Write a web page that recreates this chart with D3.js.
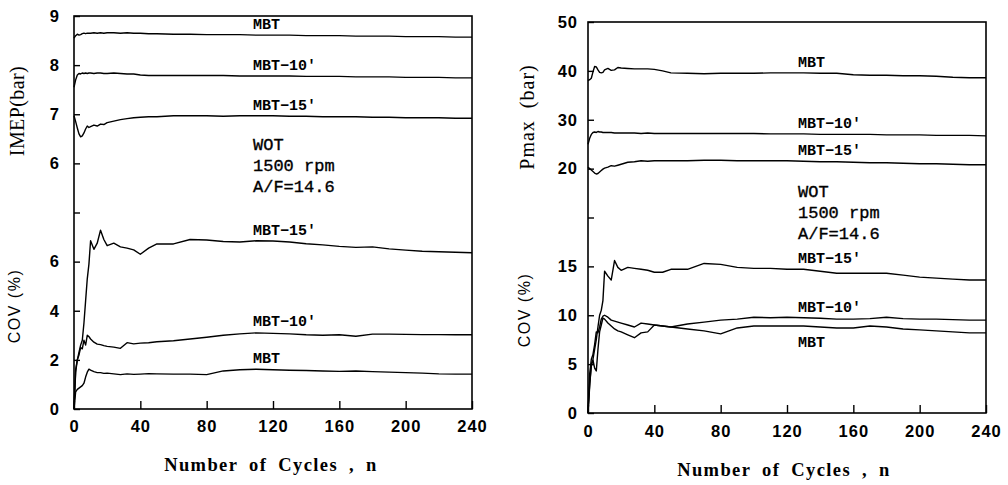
<!DOCTYPE html>
<html>
<head>
<meta charset="utf-8">
<script src="https://cdn.jsdelivr.net/npm/d3@7"></script>
<style>
  html, body { margin: 0; padding: 0; background: #ffffff; }
  svg { display: block; }
</style>
</head>
<body>
<svg id="chart" width="1008" height="485"></svg>
<script>
// ---- data -------------------------------------------------------------
const cycles = [0,1,2,3,4,5,6,7,8,9,10,12,14,16,18,20,24,28,32,36,40,45,50,
  60,70,80,90,100,110,120,130,140,150,160,170,180,190,200,210,220,230,240];

const xTickValues = [0,40,80,120,160,200,240];
const seriesNames = ["MBT", "MBT\u221210'", "MBT\u221215'"];

// IMEP (bar)
const imepMBT = [8.55,8.60,8.63,8.61,8.62,8.64,8.65,8.64,8.65,8.65,8.65,
  8.66,8.65,8.66,8.65,8.66, 8.66,8.65,8.66,8.65,8.65, 8.64,8.64,
  8.63,8.63,8.62,8.62,8.62,8.61,8.61,8.61,8.60,8.60,8.60,8.59,8.59,8.59,8.58,8.58,8.58,8.57,8.57];
const imepMBT10 = [7.55,7.70,7.80,7.83,7.82,7.84,7.83,7.84,7.83,7.84,7.84,
  7.83,7.84,7.84,7.83,7.83, 7.84,7.83,7.82,7.82,7.80, 7.79,7.79,
  7.79,7.79,7.79,7.79,7.78,7.78,7.78,7.78,7.77,7.77,7.77,7.76,7.76,7.76,7.75,7.75,7.75,7.74,7.74];
const imepMBT15 = [6.97,6.85,6.72,6.60,6.54,6.56,6.62,6.70,6.76,6.73,6.75,
  6.78,6.76,6.80,6.79,6.83, 6.86,6.89,6.91,6.93,6.94, 6.95,6.95,
  6.97,6.97,6.97,6.96,6.97,6.97,6.97,6.96,6.96,6.95,6.95,6.95,6.94,6.94,6.93,6.93,6.93,6.92,6.92];

// COV of IMEP (%)
const covImepMBT = [0,0.7,0.8,0.85,0.9,0.95,1.05,1.3,1.5,1.62,1.58,
  1.52,1.48,1.48,1.45,1.46, 1.43,1.40,1.43,1.41,1.42, 1.44,1.43,
  1.42,1.42,1.40,1.55,1.60,1.62,1.60,1.58,1.57,1.55,1.53,1.55,1.52,1.50,1.48,1.46,1.43,1.42,1.42];
const covImepMBT10 = [0,1.6,2.0,2.2,2.5,2.45,2.8,2.6,3.0,2.95,2.85,
  2.72,2.64,2.62,2.58,2.55, 2.52,2.47,2.70,2.65,2.68, 2.70,2.74,
  2.78,2.85,2.92,3.00,3.06,3.10,3.08,3.06,3.02,3.00,3.02,2.96,3.05,3.05,3.04,3.03,3.03,3.02,3.02];
const covImepMBT15 = [0,1.5,2.0,2.3,2.6,2.8,3.5,4.4,5.3,5.9,6.85,
  6.5,6.75,7.28,6.9,6.65, 6.75,6.6,6.55,6.48,6.3, 6.55,6.72,
  6.72,6.9,6.88,6.82,6.8,6.85,6.84,6.8,6.73,6.68,6.62,6.58,6.6,6.52,6.47,6.42,6.4,6.38,6.36];

// Pmax (bar)
const pmaxMBT = [38.0,38.2,38.5,39.8,40.9,40.8,40.2,39.7,39.6,39.7,40.2,
  40.5,40.1,40.2,40.7,40.6, 40.5,40.4,40.4,40.4,40.3, 40.0,39.6,
  39.5,39.4,39.5,39.5,39.5,39.6,39.6,39.6,39.5,39.5,39.2,39.1,39.1,39.0,39.0,38.9,38.7,38.6,38.6];
const pmaxMBT10 = [25.0,26.2,27.0,27.4,27.5,27.4,27.6,27.5,27.5,27.4,27.4,
  27.4,27.4,27.3,27.3,27.3, 27.3,27.3,27.2,27.3,27.2, 27.2,27.2,
  27.2,27.2,27.2,27.2,27.2,27.1,27.1,27.1,27.0,27.0,27.0,27.0,26.9,26.9,26.9,26.8,26.8,26.8,26.7];
const pmaxMBT15 = [20.3,20.0,19.7,19.4,19.1,18.9,19.0,19.3,19.6,19.9,20.1,
  20.3,20.6,20.5,20.7,20.9, 21.3,21.4,21.6,21.5,21.6, 21.6,21.6,
  21.6,21.7,21.7,21.6,21.6,21.6,21.6,21.5,21.4,21.4,21.3,21.2,21.2,21.1,21.0,21.0,20.9,20.8,20.8];

// COV of Pmax (%)
const covPmaxMBT = [0,2.7,5.0,5.4,4.6,4.3,6.5,8.3,9.0,9.7,9.6,
  9.2,8.9,8.6,8.4,8.3, 8.0,7.7,8.2,8.3,9.0, 8.9,8.8,
  8.6,8.4,8.1,8.7,8.9,8.9,8.9,8.9,8.8,8.7,8.7,8.9,8.8,8.6,8.5,8.4,8.3,8.2,8.2];
const covPmaxMBT10 = [0,4.0,5.5,6.0,7.0,8.3,8.2,8.8,9.6,9.9,10.0,
  9.8,9.5,9.4,9.3,9.2, 9.0,8.8,9.2,9.1,9.0, 8.9,8.8,
  9.1,9.3,9.5,9.6,9.8,9.75,9.8,9.75,9.7,9.6,9.6,9.65,9.8,9.65,9.6,9.6,9.55,9.5,9.5];
const covPmaxMBT15 = [0,3.0,4.8,5.5,6.5,7.5,8.8,10.0,10.5,11.5,14.5,
  14.0,13.6,15.6,14.9,14.6, 14.9,14.8,14.7,14.6,14.4, 14.4,14.7,
  14.7,15.3,15.2,14.9,14.8,14.8,14.7,14.7,14.5,14.3,14.3,14.3,14.3,14.1,13.9,13.8,13.7,13.6,13.6];

// ---- layout -------------------------------------------------------------
const panels = [
  {
    x0: 74, x1: 472, top: 16, bottom: 409,
    upperDomain: [5, 9], upperTicks: [5,6,7,8,9], upperHidden: 5,
    lowerDomain: [0, 8], lowerTicks: [0,2,4,6],
    upperSeries: [imepMBT, imepMBT10, imepMBT15],
    lowerSeries: [covImepMBT, covImepMBT10, covImepMBT15],
    upperTitle: "IMEP(bar)", upperTitlePos: [24, 111], upperTitleSpacing: 0.4, upperTitleWord: 0,
    lowerTitlePos: [20, 306],
    yLabelPad: 14, xLabelPad: 11,
    labelX: 253,
    upperLabelDy: [-6, -6, -6],
    lowerLabelDy: [-7, -7, -6],
    notePos: [253, 150],
    xTitle: [271, 471]
  },
  {
    x0: 588, x1: 986, top: 22, bottom: 413,
    upperDomain: [10, 50], upperTicks: [10,20,30,40,50], upperHidden: 10,
    lowerDomain: [0, 20], lowerTicks: [0,5,10,15],
    upperSeries: [pmaxMBT, pmaxMBT10, pmaxMBT15],
    lowerSeries: [covPmaxMBT, covPmaxMBT10, covPmaxMBT15],
    upperTitle: "Pmax (bar)", upperTitlePos: [534, 117], upperTitleSpacing: 1, upperTitleWord: 6,
    lowerTitlePos: [530, 310],
    yLabelPad: 10, xLabelPad: 12,
    labelX: 798,
    upperLabelDy: [-6, -6, -6],
    lowerLabelDy: [21, -5, -6],
    notePos: [798, 197],
    xTitle: [784, 476]
  }
];

const noteLines = ["WOT", "1500 rpm", "A/F=14.6"];
const noteLineHeight = 21;
const labelAnchorCycle = 120;

const tickFont = "'Liberation Sans', Arial, sans-serif";
const monoFont = "'Liberation Mono', 'Courier New', monospace";
const serifFont = "'Liberation Serif', 'Times New Roman', serif";

const svg = d3.select("#chart");

panels.forEach(p => {
  const g = svg.append("g");
  const mid = (p.top + p.bottom) / 2;

  const x = d3.scaleLinear().domain([0, 240]).range([p.x0, p.x1]);
  const yUp = d3.scaleLinear().domain(p.upperDomain).range([mid, p.top]);
  const yLo = d3.scaleLinear().domain(p.lowerDomain).range([p.bottom, mid]);

  // frame
  g.append("rect")
    .attr("x", p.x0).attr("y", p.top)
    .attr("width", p.x1 - p.x0).attr("height", p.bottom - p.top)
    .attr("fill", "none").attr("stroke", "#000").attr("stroke-width", 1.6);

  // left axis: upper quantity
  const axUp = g.append("g").attr("transform", `translate(${p.x0},0)`)
    .call(d3.axisLeft(yUp).tickValues(p.upperTicks)
      .tickSizeInner(-6).tickSizeOuter(0).tickPadding(p.yLabelPad)
      .tickFormat(d => d === p.upperHidden ? "" : d3.format("d")(d)));
  // left axis: COV
  const axLo = g.append("g").attr("transform", `translate(${p.x0},0)`)
    .call(d3.axisLeft(yLo).tickValues(p.lowerTicks)
      .tickSizeInner(-6).tickSizeOuter(0).tickPadding(p.yLabelPad)
      .tickFormat(d3.format("d")));
  // bottom axis
  const axX = g.append("g").attr("transform", `translate(0,${p.bottom})`)
    .call(d3.axisBottom(x).tickValues(xTickValues)
      .tickSizeInner(-8).tickSizeOuter(0).tickPadding(p.xLabelPad)
      .tickFormat(d3.format("d")));

  [axUp, axLo, axX].forEach(a => {
    a.select(".domain").remove();
    a.selectAll(".tick line").attr("stroke", "#000").attr("stroke-width", 1.4);
    a.selectAll(".tick text")
      .attr("fill", "#000")
      .style("font-family", tickFont)
      .style("font-size", "16.5px")
      .style("font-weight", "bold")
      .style("letter-spacing", "1px");
  });

  // curves
  const line = yScale => d3.line()
    .x((d, i) => x(cycles[i]))
    .y(d => yScale(d));

  p.upperSeries.forEach(s => {
    g.append("path").datum(s)
      .attr("d", line(yUp))
      .attr("fill", "none").attr("stroke", "#000")
      .attr("stroke-width", 1.4).attr("stroke-linejoin", "round");
  });
  p.lowerSeries.forEach(s => {
    g.append("path").datum(s)
      .attr("d", line(yLo))
      .attr("fill", "none").attr("stroke", "#000")
      .attr("stroke-width", 1.4).attr("stroke-linejoin", "round");
  });

  // curve labels
  const ai = cycles.indexOf(labelAnchorCycle);
  const addLabel = (txt, yy) => g.append("text")
    .attr("x", p.labelX).attr("y", yy)
    .style("font-family", monoFont).style("font-size", "15px")
    .style("font-weight", "bold").attr("fill", "#000")
    .text(txt);
  p.upperSeries.forEach((s, k) => addLabel(seriesNames[k], yUp(s[ai]) + p.upperLabelDy[k]));
  p.lowerSeries.forEach((s, k) => addLabel(seriesNames[k], yLo(s[ai]) + p.lowerLabelDy[k]));

  // operating condition note
  const note = g.append("text")
    .style("font-family", monoFont).style("font-size", "17px")
    .attr("fill", "#000").attr("stroke", "#000").attr("stroke-width", 0.35)
    .attr("xml:space", "preserve").style("white-space", "pre");
  noteLines.forEach((t, k) => {
    note.append("tspan").attr("x", p.notePos[0]).attr("y", p.notePos[1] + k * noteLineHeight).text(t);
  });

  // axis titles
  g.append("text")
    .attr("transform", `translate(${p.upperTitlePos[0]},${p.upperTitlePos[1]}) rotate(-90)`)
    .attr("text-anchor", "middle")
    .style("font-family", serifFont).style("font-size", "20px")
    .style("letter-spacing", p.upperTitleSpacing + "px")
    .style("word-spacing", p.upperTitleWord + "px")
    .attr("fill", "#000").text(p.upperTitle);

  g.append("text")
    .attr("transform", `translate(${p.lowerTitlePos[0]},${p.lowerTitlePos[1]}) rotate(-90)`)
    .attr("text-anchor", "middle")
    .style("font-family", tickFont).style("font-size", "16px")
    .style("letter-spacing", "1.5px")
    .attr("fill", "#000").text("COV (%)");

  g.append("text")
    .attr("x", p.xTitle[0]).attr("y", p.xTitle[1])
    .attr("text-anchor", "middle")
    .style("font-family", serifFont).style("font-size", "18.5px")
    .style("font-weight", "bold")
    .style("letter-spacing", "1.4px")
    .style("word-spacing", "5px")
    .attr("fill", "#000").text("Number of Cycles , n");
});
</script>
</body>
</html>
